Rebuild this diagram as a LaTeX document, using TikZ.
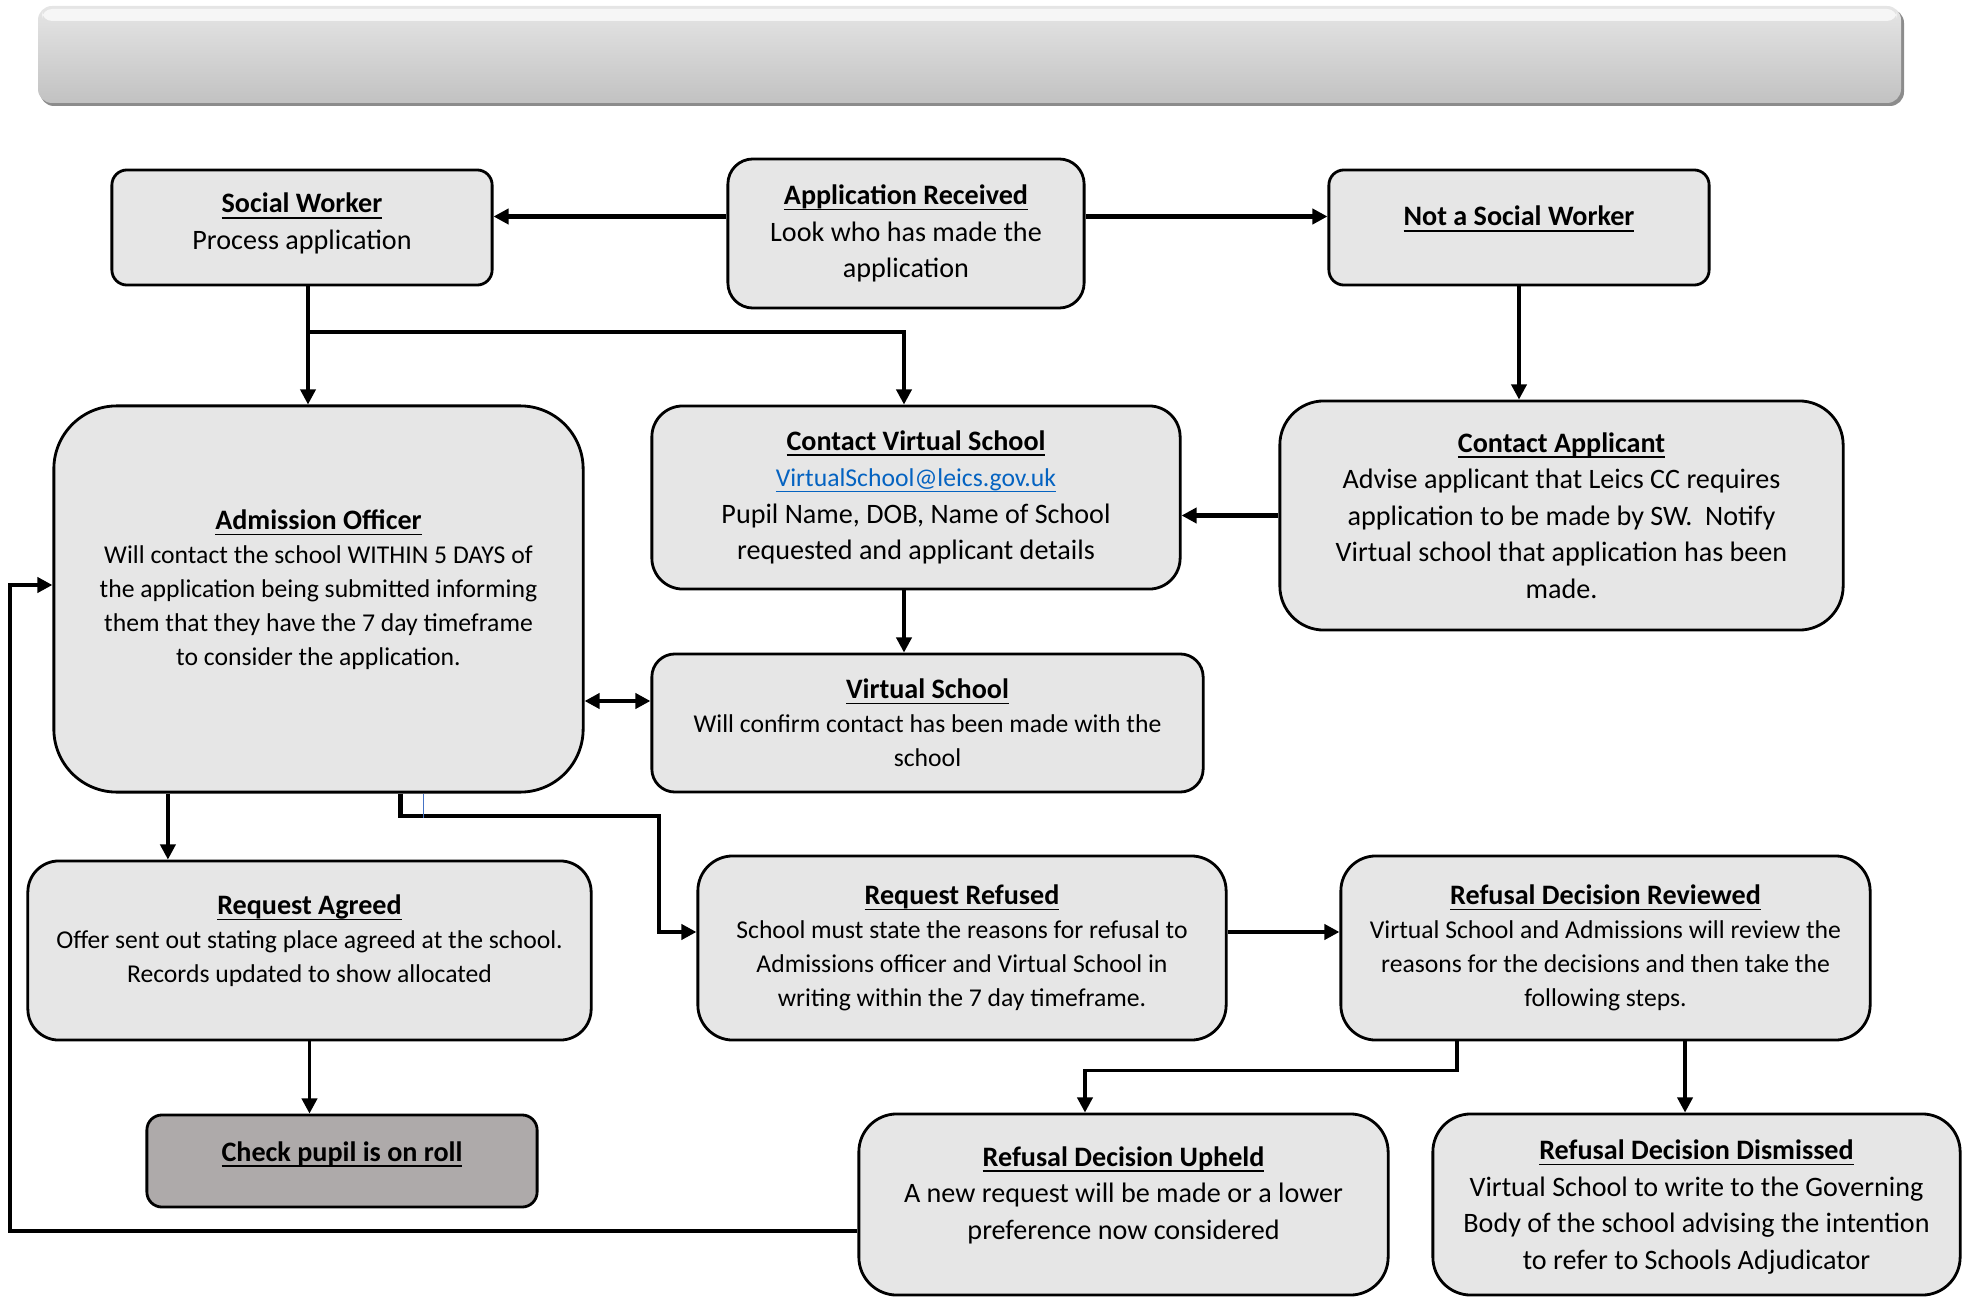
\documentclass[tikz,border=0pt]{standalone}
\usepackage{fontspec}
\setmainfont{Carlito}
\usetikzlibrary{arrows.meta,positioning,calc}
\definecolor{boxgrey}{RGB}{230,230,230}
\definecolor{rollgrey}{RGB}{174,170,170}
\definecolor{mailblue}{RGB}{5,99,193}
\definecolor{strayblue}{RGB}{68,114,196}
\newcommand{\uln}[1]{$\underline{\hbox{\raisebox{0pt}[\height][0pt]{#1}}}$}
\newcommand{\boxtitle}[1]{{\fontsize{8}{10}\selectfont\uln{\textbf{#1}}}}

\begin{document}
\begin{tikzpicture}[x=0.01cm,y=-0.01cm,>={Triangle[length=4.3pt,width=4.3pt]},
    flowbox/.style={draw=black,line width=0.8pt,fill=boxgrey,align=center,inner sep=0pt,
      font=\fontsize{8}{10.4}\selectfont},
    smallbox/.style={flowbox,font=\fontsize{7.3}{9.65}\selectfont},
    link/.style={->,line width=1pt},
    boldlink/.style={->,line width=1.4pt}]
    \useasboundingbox (0,0) rectangle (1969,1297);
    % header bar
    \fill[black!45,rounded corners=0.14cm] (40,9) rectangle (1904,106);
    \shade[rounded corners=0.14cm,top color=black!10,middle color=black!16,bottom color=black!24] (38,6) rectangle (1901,103);
    \fill[white,opacity=0.7,rounded corners=0.1cm] (42,9) rectangle (1897,21);
    % top row
    \node[flowbox,rounded corners=0.15cm,minimum width=3.80cm,minimum height=1.15cm,text depth=3.5pt] (sw) at (302,227.5)
      {\boxtitle{Social Worker}\\Process application};
    \node[flowbox,rounded corners=0.25cm,minimum width=3.56cm,minimum height=1.49cm] (apprec) at (906,233.5)
      {\boxtitle{Application Received}\\Look who has made the\\application};
    \node[flowbox,rounded corners=0.15cm,minimum width=3.80cm,minimum height=1.15cm,text depth=6.5pt] (notsw) at (1519,227.5)
      {\boxtitle{Not a Social Worker}};
    % middle row
    \node[smallbox,rounded corners=0.63cm,minimum width=5.29cm,minimum height=3.86cm,text depth=6.6pt] (ao) at (318.5,599)
      {\boxtitle{Admission Officer}\\Will contact the school WITHIN 5 DAYS of\\the application being submitted informing\\them that they have the 7 day timeframe\\to consider the application.};
    \node[flowbox,rounded corners=0.31cm,minimum width=5.28cm,minimum height=1.83cm] (cvs) at (916,497.5)
      {\boxtitle{Contact Virtual School}\\{\fontsize{7.3}{10.4}\selectfont\color{mailblue}\uln{VirtualSchool@leics.gov.uk}}\\Pupil Name, DOB, Name of School\\requested and applicant details};
    \node[flowbox,rounded corners=0.44cm,minimum width=5.63cm,minimum height=2.29cm] (capp) at (1561.5,515.5)
      {\boxtitle{Contact Applicant}\\Advise applicant that Leics CC requires\\application to be made by SW.\ \ Notify\\Virtual school that application has been\\made.};
    \node[smallbox,rounded corners=0.23cm,minimum width=5.51cm,minimum height=1.38cm] (vs) at (927.5,723)
      {\boxtitle{Virtual School}\\Will confirm contact has been made with the\\school};
    % lower rows
    \node[smallbox,rounded corners=0.31cm,minimum width=5.63cm,minimum height=1.79cm,text depth=6.6pt] (agreed) at (309.5,950.5)
      {\boxtitle{Request Agreed}\\Offer sent out stating place agreed at the school.\\Records updated to show allocated};
    \node[smallbox,rounded corners=0.35cm,minimum width=5.28cm,minimum height=1.84cm] (refused) at (962,948)
      {\boxtitle{Request Refused}\\School must state the reasons for refusal to\\Admissions officer and Virtual School in\\writing within the 7 day timeframe.};
    \node[smallbox,rounded corners=0.35cm,minimum width=5.29cm,minimum height=1.84cm] (reviewed) at (1605.5,948)
      {\boxtitle{Refusal Decision Reviewed}\\Virtual School and Admissions will review the\\reasons for the decisions and then take the\\following steps.};
    \node[flowbox,fill=rollgrey,rounded corners=0.15cm,minimum width=3.90cm,minimum height=0.92cm,text depth=5.5pt] (roll) at (342,1161)
      {\boxtitle{Check pupil is on roll}};
    \node[flowbox,rounded corners=0.38cm,minimum width=5.29cm,minimum height=1.81cm,text depth=6.6pt] (upheld) at (1123.5,1204.5)
      {\boxtitle{Refusal Decision Upheld}\\A new request will be made or a lower\\preference now considered};
    \node[flowbox,rounded corners=0.38cm,minimum width=5.27cm,minimum height=1.81cm,text depth=-2pt] (dismissed) at (1696.5,1204.5)
      {\boxtitle{Refusal Decision Dismissed}\\Virtual School to write to the Governing\\Body of the school advising the intention\\to refer to Schools Adjudicator};
    % connectors
    \coordinate (swin) at ([yshift=0.11cm]sw.east);
    \draw[boldlink] (apprec.west |- swin) -- (swin);
    \draw[boldlink] (apprec.east |- swin) -- (notsw.west |- swin);
    \draw[link] ([xshift=0.06cm]sw.south) -- ([xshift=0.06cm]sw.south |- ao.north);
    \draw[link] ([xshift=0.06cm]sw.south |- 0,332) -| ([xshift=-0.12cm]cvs.north);
    \draw[link] (notsw.south) -- (notsw.south |- capp.north);
    \draw[boldlink] (capp.west) -- (capp.west -| cvs.east);
    \draw[link] ([xshift=-0.12cm]cvs.south) -- ([xshift=-0.12cm]cvs.south |- vs.north);
    \draw[boldlink,<->] (ao.east |- 0,701) -- (vs.west |- 0,701);
    \draw[link] ([xshift=-1.505cm]ao.south) -- ([xshift=-1.505cm]ao.south |- agreed.north);
    \draw[boldlink] ([xshift=0.815cm]ao.south) |- (659,816) |- ([yshift=0.16cm]refused.west);
    \draw[strayblue,line width=0.3pt] ([xshift=1.045cm]ao.south) -- ++(0,24);
    \draw[boldlink] ([yshift=0.16cm]refused.east) -- ([yshift=0.16cm]refused.east -| reviewed.west);
    \draw[link] ([xshift=-1.485cm]reviewed.south) -- ++(0,29) -| ([xshift=-0.385cm]upheld.north);
    \draw[link] ([xshift=0.795cm]reviewed.south) -- ([xshift=0.795cm]reviewed.south |- dismissed.north);
    \draw[link] (agreed.south) -- (agreed.south |- roll.north);
    \draw[boldlink] ([yshift=-0.265cm]upheld.west) -| (10,585) -- (ao.west |- 10,585);
\end{tikzpicture}
\end{document}
